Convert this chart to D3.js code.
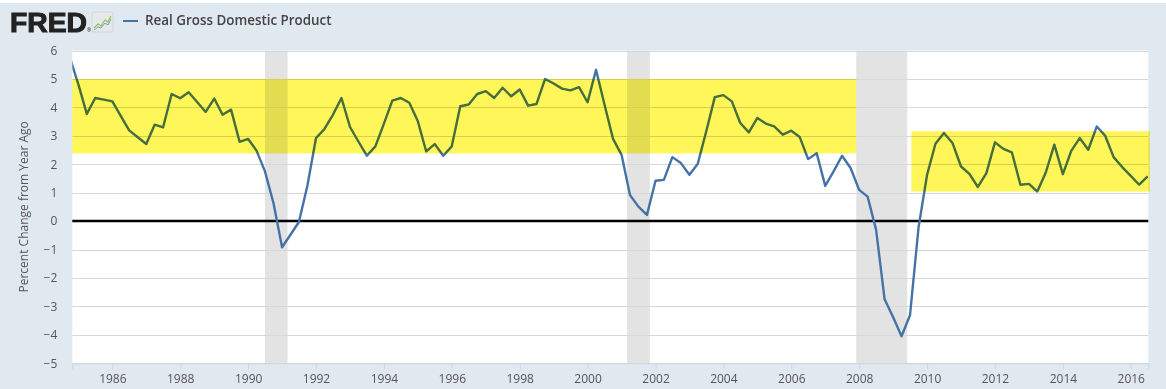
<!DOCTYPE html>
<html>
<head>
<meta charset="utf-8">
<script src="https://cdn.jsdelivr.net/npm/d3@7"></script>
<style>
  body { margin: 0; background: #e1e9f0; }
  svg { display: block; font-family: "Open Sans", sans-serif; }
  .band { mix-blend-mode: multiply; }
</style>
</head>
<body>
<svg width="1166" height="389"></svg>
<script>
// Real GDP, percent change from year ago, quarterly from 1984 Q4
let startQuarter = "1984-10-01";
let gdpChange = [
  5.75,
  4.80, 3.77, 4.33, 4.27,
  4.21, 3.70, 3.19, 2.95,
  2.71, 3.39, 3.30, 4.47,
  4.32, 4.53, 4.19, 3.84,
  4.31, 3.74, 3.92, 2.79,
  2.89, 2.48, 1.75, 0.63,
  -0.92, -0.48, -0.03, 1.25,
  2.92, 3.24, 3.74, 4.33,
  3.31, 2.80, 2.30, 2.63,
  3.43, 4.24, 4.33, 4.16,
  3.51, 2.45, 2.71, 2.30,
  2.63, 4.04, 4.10, 4.47,
  4.57, 4.33, 4.69, 4.39,
  4.63, 4.06, 4.12, 5.00,
  4.84, 4.66, 4.60, 4.71,
  4.18, 5.32, 4.10, 2.89,
  2.33, 0.92, 0.51, 0.22,
  1.42, 1.45, 2.25, 2.04,
  1.63, 2.02, 3.16, 4.36,
  4.43, 4.21, 3.45, 3.12,
  3.63, 3.43, 3.33, 3.04,
  3.18, 2.96, 2.18, 2.39,
  1.24, 1.75, 2.30, 1.87,
  1.10, 0.86, -0.30, -2.75,
  -3.38, -4.05, -3.31, -0.22,
  1.63, 2.72, 3.10, 2.75,
  1.92, 1.66, 1.20, 1.69,
  2.77, 2.54, 2.42, 1.28,
  1.31, 1.04, 1.71, 2.69,
  1.65, 2.47, 2.92, 2.51,
  3.33, 3.00, 2.25, 1.90,
  1.59, 1.28, 1.57
];

// NBER recessions
let recessionStart = ["1990-07-01", "2001-03-01", "2007-12-01"];
let recessionEnd = ["1991-03-01", "2001-11-01", "2009-06-01"];

// yellow highlight bands
let bandStart = ["1984-10-27", "2009-07-16"];
let bandEnd = ["2007-12-01", "2016-07-25"];
let bandLow = [2.38, 1.04];
let bandHigh = [5.0, 3.16];

let yTicks = [6, 5, 4, 3, 2, 1, 0, -1, -2, -3, -4, -5];
let xTickYears = [1986, 1988, 1990, 1992, 1994, 1996, 1998, 2000, 2002, 2004, 2006, 2008, 2010, 2012, 2014, 2016];

let parse = d3.timeParse("%Y-%m-%d");
let svg = d3.select("svg");
let plotLeft = 72.3, plotRight = 1148.3, plotTop = 50.5, plotBottom = 363.3;

let x = d3.scaleTime()
  .domain([new Date(1984, 9, 27), new Date(2016, 6, 8)])
  .range([plotLeft, plotRight]);
let y = d3.scaleLinear().domain([-5, 6]).range([plotBottom, plotTop]);

let start = parse(startQuarter);
let data = gdpChange.map((v, i) => ({ date: d3.timeMonth.offset(start, 3 * i), value: v }));

// top strip
svg.append("rect").attr("x", 0).attr("y", 0).attr("width", 1166).attr("height", 3).attr("fill", "#fff");

// header
svg.append("text")
  .attr("x", 10).attr("y", 32)
  .attr("font-family", "'Liberation Sans', Arial, sans-serif")
  .attr("font-weight", 900).attr("font-size", 27)
  .attr("textLength", 77).attr("lengthAdjust", "spacingAndGlyphs")
  .attr("fill", "#222").attr("stroke", "#222").attr("stroke-width", 1)
  .text("FRED");
svg.append("text").attr("x", 87).attr("y", 32).attr("font-size", 5).attr("fill", "#222").text("®");
let icon = svg.append("g").attr("transform", "translate(92,12)");
icon.append("rect").attr("width", 21).attr("height", 20).attr("rx", 2).attr("fill", "#e6e9ec").attr("stroke", "#d0d4d8");
icon.append("polyline").attr("points", "2,16 6,12 9,14 13,8 16,10 19,4").attr("fill", "none").attr("stroke", "#8dc63f").attr("stroke-width", 1.2);
icon.append("polyline").attr("points", "2,18 6,15 9,16 13,11 16,13 19,7").attr("fill", "none").attr("stroke", "#7b9cc4").attr("stroke-width", 1);

svg.append("line").attr("x1", 123).attr("x2", 138).attr("y1", 21).attr("y2", 21).attr("stroke", "#4572a7").attr("stroke-width", 2);
svg.append("text").attr("x", 145).attr("y", 25).attr("font-size", 13.4).attr("font-weight", 600).attr("fill", "#444")
  .text("Real Gross Domestic Product");

// plot area
svg.append("rect").attr("x", plotLeft).attr("y", plotTop).attr("width", plotRight - plotLeft).attr("height", plotBottom - plotTop).attr("fill", "#fff");

svg.append("defs").append("clipPath").attr("id", "clip")
  .append("rect").attr("x", plotLeft).attr("y", plotTop - 2).attr("width", plotRight - plotLeft).attr("height", plotBottom - plotTop + 4);

// recessions
svg.append("g").selectAll("rect").data(recessionStart).enter().append("rect")
  .attr("x", d => x(parse(d)))
  .attr("width", (d, i) => x(parse(recessionEnd[i])) - x(parse(d)))
  .attr("y", plotTop).attr("height", plotBottom - plotTop)
  .attr("fill", "#e3e3e3");

// grid
svg.append("g").selectAll("line").data(yTicks.filter(d => d !== 0)).enter().append("line")
  .attr("x1", plotLeft).attr("x2", plotRight)
  .attr("y1", d => Math.round(y(d)) + 0.5).attr("y2", d => Math.round(y(d)) + 0.5)
  .attr("stroke", "#d8d8d8").attr("stroke-width", 1);

svg.append("line").attr("x1", plotLeft).attr("x2", plotRight).attr("y1", y(0)).attr("y2", y(0))
  .attr("stroke", "#000").attr("stroke-width", 2.5);

// series
svg.append("path").datum(data)
  .attr("clip-path", "url(#clip)")
  .attr("fill", "none").attr("stroke", "#4572a7").attr("stroke-width", 2.4)
  .attr("stroke-linejoin", "round")
  .attr("d", d3.line().x(d => x(d.date)).y(d => y(d.value)));

// highlight bands
svg.append("g").selectAll("rect").data(bandStart).enter().append("rect")
  .attr("class", "band")
  .attr("x", d => x(parse(d)))
  .attr("width", (d, i) => x(parse(bandEnd[i])) - x(parse(d)))
  .attr("y", (d, i) => y(bandHigh[i]))
  .attr("height", (d, i) => y(bandLow[i]) - y(bandHigh[i]))
  .attr("fill", "#fff65a");

// x axis
let xAxis = d3.axisBottom(x)
  .tickValues(xTickYears.map(yr => new Date(yr, 0, 1)))
  .tickFormat(d3.timeFormat("%Y"))
  .tickSize(6).tickPadding(5);
let gx = svg.append("g").attr("transform", `translate(0,${plotBottom})`).call(xAxis);
gx.select(".domain").attr("stroke", "#ccd6eb");
gx.selectAll(".tick line").attr("stroke", "#ccd6eb");
gx.selectAll(".tick text").attr("font-size", 12).attr("fill", "#555").attr("font-family", "'Open Sans', sans-serif");

// y axis labels
let yAxis = d3.axisLeft(y).tickValues(yTicks).tickSize(0).tickPadding(15);
let gy = svg.append("g").attr("transform", `translate(${plotLeft},0)`).call(yAxis);
gy.select(".domain").remove();
gy.selectAll(".tick text").attr("font-size", 12).attr("fill", "#555").attr("font-family", "'Open Sans', sans-serif");

svg.append("text")
  .attr("transform", `translate(28,${(plotTop + plotBottom) / 2}) rotate(-90)`)
  .attr("text-anchor", "middle")
  .attr("font-size", 12).attr("fill", "#555")
  .text("Percent Change from Year Ago");
</script>
</body>
</html>
